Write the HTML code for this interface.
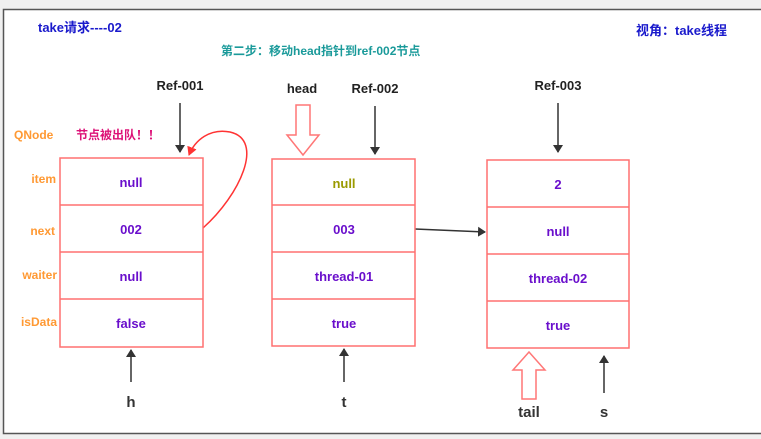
<!DOCTYPE html>
<html><head><meta charset="utf-8"><style>
html,body{margin:0;padding:0;background:#f0f0f0;}
svg{display:block;}
text{font-family:"Liberation Sans","Noto Sans CJK SC",sans-serif;font-weight:bold;}
</style></head><body>
<svg width="761" height="439" viewBox="0 0 761 439" xmlns="http://www.w3.org/2000/svg">
<defs>
<marker id="a" markerWidth="8" markerHeight="10" refX="7" refY="5" orient="auto" markerUnits="userSpaceOnUse"><path d="M0,0 L8,5 L0,10 Z" fill="#333"/></marker>
<marker id="r" markerWidth="10" markerHeight="10" refX="8" refY="5" orient="auto" markerUnits="userSpaceOnUse"><path d="M0,0 L9,5 L0,10 Z" fill="#ff3333"/></marker>
</defs>
<rect x="3.5" y="9.5" width="770" height="424" fill="#fff" stroke="#555" stroke-width="1.5"/>
<text x="38" y="32" font-size="13" fill="#1a1acc">take请求----02</text>
<text x="636" y="35" font-size="13" fill="#1a1acc">视角：take线程</text>
<text x="221" y="55" font-size="12" fill="#1a9a9a">第二步：移动head指针到ref-002节点</text>
<g font-size="13" fill="#222" text-anchor="middle">
<text x="180" y="90">Ref-001</text><text x="302" y="93">head</text><text x="375" y="93">Ref-002</text><text x="558" y="90">Ref-003</text>
</g>
<g stroke="#333" stroke-width="1.5" fill="none">
<line x1="180" y1="103" x2="180" y2="152" marker-end="url(#a)"/>
<line x1="375" y1="106" x2="375" y2="154" marker-end="url(#a)"/>
<line x1="558" y1="103" x2="558" y2="152" marker-end="url(#a)"/>
<line x1="415" y1="229" x2="485" y2="232" marker-end="url(#a)"/>
<line x1="131" y1="382" x2="131" y2="350" marker-end="url(#a)"/>
<line x1="344" y1="382" x2="344" y2="349" marker-end="url(#a)"/>
<line x1="604" y1="393" x2="604" y2="356" marker-end="url(#a)"/>
</g>
<path d="M296,105 L310,105 L310,135 L319,135 L303,155 L287,135 L296,135 Z" fill="#fff" stroke="#ff7777" stroke-width="1.5"/>
<path d="M522,399 L536,399 L536,370 L545,370 L529,352 L513,370 L522,370 Z" fill="#fff" stroke="#ff7777" stroke-width="1.5"/>
<path d="M203,228 C240,195 265,140 230,132 C210,128 195,140 189,155" fill="none" stroke="#ff3333" stroke-width="1.5" marker-end="url(#r)"/>
<text x="14" y="139" font-size="12" fill="#ff9933">QNode</text>
<text x="76" y="139" font-size="12" fill="#dd1177">节点被出队！！</text>
<g font-size="12" fill="#ff9933" text-anchor="end">
<text x="56" y="183">item</text><text x="55" y="235">next</text><text x="57" y="279">waiter</text><text x="57" y="326">isData</text>
</g>
<g fill="#fff" stroke="#ff7070" stroke-width="1.5">
<rect x="60" y="158" width="143" height="189"/>
<line x1="60" y1="205" x2="203" y2="205"/><line x1="60" y1="252" x2="203" y2="252"/><line x1="60" y1="299" x2="203" y2="299"/>
<rect x="272" y="159" width="143" height="187"/>
<line x1="272" y1="205" x2="415" y2="205"/><line x1="272" y1="252" x2="415" y2="252"/><line x1="272" y1="299" x2="415" y2="299"/>
<rect x="487" y="160" width="142" height="188"/>
<line x1="487" y1="207" x2="629" y2="207"/><line x1="487" y1="254" x2="629" y2="254"/><line x1="487" y1="301" x2="629" y2="301"/>
</g>
<g font-size="13" fill="#6a0fcc" text-anchor="middle">
<text x="131" y="187">null</text><text x="131" y="234">002</text><text x="131" y="281">null</text><text x="131" y="328">false</text>
<text x="344" y="188" fill="#9a9a00">null</text><text x="344" y="234">003</text><text x="344" y="281">thread-01</text><text x="344" y="328">true</text>
<text x="558" y="189">2</text><text x="558" y="236">null</text><text x="558" y="283">thread-02</text><text x="558" y="330">true</text>
</g>
<g font-size="15" fill="#333" text-anchor="middle">
<text x="131" y="407">h</text><text x="344" y="407">t</text><text x="529" y="417">tail</text><text x="604" y="417">s</text>
</g>
</svg>
</body></html>
